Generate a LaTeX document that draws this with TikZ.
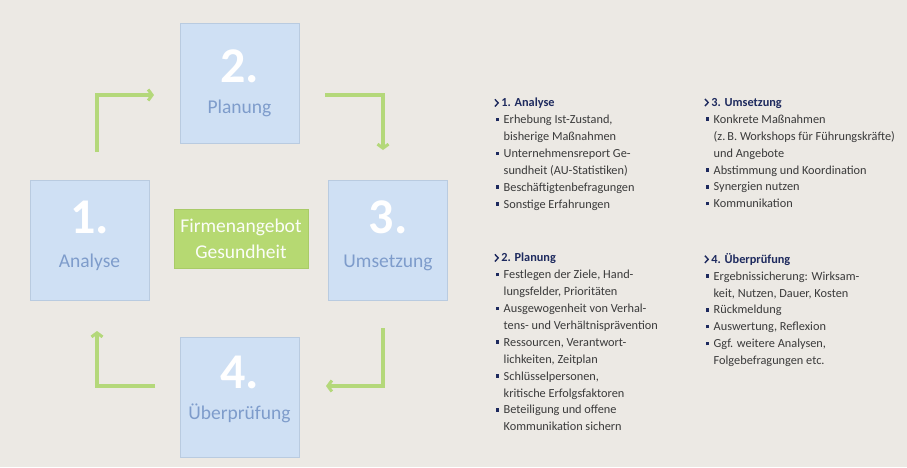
\documentclass[tikz,border=0pt]{standalone}
\usepackage{fontspec}
\setmainfont{Carlito}
\usetikzlibrary{arrows.meta}
\definecolor{bg}{HTML}{ECE9E4}
\definecolor{boxfill}{HTML}{CFE0F4}
\definecolor{boxline}{HTML}{B9CBE0}
\definecolor{lblue}{HTML}{7E9CCB}
\definecolor{lgreen}{HTML}{B4D87A}
\definecolor{cgreen}{HTML}{B6D972}
\definecolor{cgreenline}{HTML}{A9CB68}
\definecolor{navy}{HTML}{1E2A5E}
\definecolor{txt}{HTML}{3A3A3A}
\newcommand{\bl}{\hspace*{1.5pt}\makebox[8pt][l]{\textcolor{navy}{\raisebox{2.4pt}{\rule{3.5pt}{3.5pt}}}}}
\newcommand{\ind}{\hspace*{9.5pt}}
\newcommand{\chev}{\tikz[baseline=0pt, x=1pt, y=1pt]{\draw[navy, line width=1.4pt, line cap=butt, line join=miter] (0.3,0.3)--(3.6,3.9)--(0.3,7.5);}}
\newcommand{\hd}[1]{{\color{navy}\bfseries\chev\hspace{2.5pt}#1}}
\begin{document}
\begin{tikzpicture}[x=1pt,y=-1pt,
  stage/.style={draw=boxline, line width=0.8pt, fill=boxfill, minimum width=119pt, minimum height=120pt, inner sep=0pt},
  num/.style={text=white, font=\fontsize{50}{50}\selectfont\bfseries, anchor=base, inner sep=0pt},
  lbl/.style={text=lblue, font=\fontsize{19.5}{20}\selectfont, anchor=base, inner sep=0pt},
  center/.style={draw=cgreenline, line width=0.8pt, fill=cgreen, minimum width=134pt, minimum height=59pt, inner sep=0pt},
  ctext/.style={text=white!95!lgreen, font=\fontsize{19.5}{20}\selectfont, anchor=base, inner sep=0pt},
  flow/.style={draw=lgreen, line width=3.2pt, -{Straight Barb[length=4pt, width=11pt, line width=3pt]}},
  list/.style={text=txt, font=\fontsize{12.3}{16.9}\selectfont, align=left, anchor=north west, inner sep=0pt}
]
\useasboundingbox (0,0) rectangle (907,467);
\fill[bg] (0,0) rectangle (907,467);

% stage boxes
\node[stage] (b1) at (89.5,240.5) {};
\node[stage] (b2) at (239.5,83) {};
\node[stage] (b3) at (388,240.5) {};
\node[stage] (b4) at (239.5,397) {};
\node[center] (c) at (241,238.5) {};

\node[num] (n1) at (89.5,233) {1.};
\node[lbl] (l1) at (89.5,267) {Analyse};
\node[num] (n2) at (239.5,82) {2.};
\node[lbl] (l2) at (239.5,113) {Planung};
\node[num] (n3) at (388,233) {3.};
\node[lbl] (l3) at (388,267) {Umsetzung};
\node[num] (n4) at (239.5,388) {4.};
\node[lbl] (l4) at (239.5,419) {Überprüfung};
\node[ctext] (c1) at (241,232) {Firmenangebot};
\node[ctext] (c2) at (241,258) {Gesundheit};

% cycle arrows
\coordinate (a1s) at (97,152);
\coordinate (a1e) at (154,95);
\coordinate (a2s) at (325,95);
\coordinate (a2e) at (383,150);
\coordinate (a3s) at (383,328);
\coordinate (a3e) at (326,386);
\coordinate (a4s) at (155,386);
\coordinate (a4e) at (97,331);
\draw[flow] (a1s) |- (a1e);
\draw[flow] (a2s) -| (a2e);
\draw[flow] (a3s) |- (a3e);
\draw[flow] (a4s) -| (a4e);

% text lists
\node[list] (t1) at (494,98) {\hd{1. Analyse}\\
\bl Erhebung Ist-Zustand,\\
\ind bisherige Maßnahmen\\
\bl Unternehmensreport Ge-\\
\ind sundheit (AU-Statistiken)\\
\bl Beschäftigtenbefragungen\\
\bl Sonstige Erfahrungen};

\node[list] (t2) at (494,253) {\hd{2. Planung}\\
\bl Festlegen der Ziele, Hand-\\
\ind lungsfelder, Prioritäten\\
\bl Ausgewogenheit von Verhal-\\
\ind tens- und Verhältnisprävention\\
\bl Ressourcen, Verantwort-\\
\ind lichkeiten, Zeitplan\\
\bl Schlüsselpersonen,\\
\ind kritische Erfolgsfaktoren\\
\bl Beteiligung und offene\\
\ind Kommunikation sichern};

\node[list] (t3) at (704,98) {\hd{3. Umsetzung}\\
\bl Konkrete Maßnahmen\\
\ind (z.\,B. Workshops für Führungskräfte)\\
\ind und Angebote\\
\bl Abstimmung und Koordination\\
\bl Synergien nutzen\\
\bl Kommunikation};

\node[list] (t4) at (704,253) {\hd{4. Überprüfung}\\
\bl Ergebnissicherung: Wirksam-\\
\ind keit, Nutzen, Dauer, Kosten\\
\bl Rückmeldung\\
\bl Auswertung, Reflexion\\
\bl Ggf. weitere Analysen,\\
\ind Folgebefragungen etc.};
\end{tikzpicture}
\end{document}
